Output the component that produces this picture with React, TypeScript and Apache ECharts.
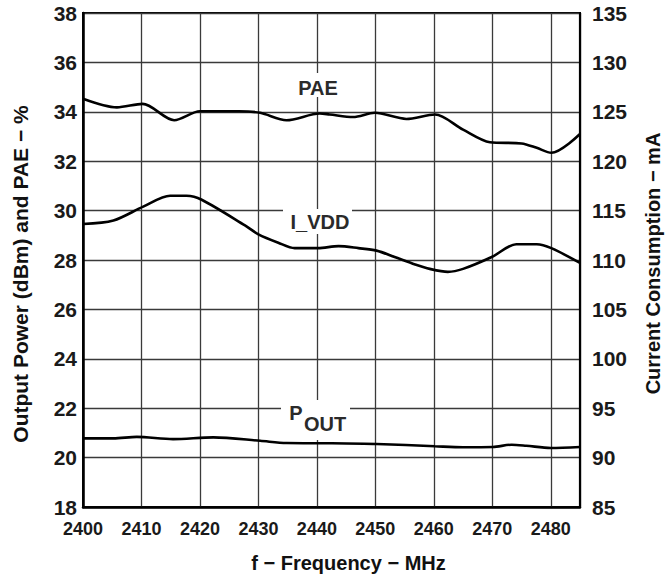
import React, { useEffect, useRef } from "react";
import * as echarts from "echarts";

// Frequency (MHz) / value pairs
const paeFreq = [2400, 2405.8, 2410.2, 2415.6, 2420, 2426.7, 2430.3, 2434.8, 2440.5, 2442.2, 2446.2, 2449.9, 2455.3, 2460.2, 2465, 2469.6, 2475, 2477.6, 2480.1, 2485];
const paeVal = [34.53, 34.18, 34.32, 33.66, 34.02, 34.02, 33.96, 33.66, 33.93, 33.89, 33.79, 33.96, 33.71, 33.89, 33.28, 32.77, 32.72, 32.54, 32.34, 33.1];

const idFreq = [2400, 2405.2, 2410.3, 2414.9, 2417.7, 2420.3, 2427.7, 2430, 2433.4, 2436.2, 2440.2, 2443.7, 2447.1, 2450.2, 2453.3, 2456.8, 2459.3, 2462.4, 2465, 2469.9, 2474.1, 2477.6, 2480.1, 2485];
const idVal = [113.65, 114.0, 115.4, 116.5, 116.5, 116.1, 113.5, 112.6, 111.75, 111.2, 111.2, 111.4, 111.2, 110.95, 110.3, 109.55, 109.1, 108.8, 109.1, 110.3, 111.6, 111.6, 111.2, 109.7];

const poutFreq = [2400, 2405.2, 2409.2, 2415.4, 2422.3, 2430.3, 2434.8, 2442.2, 2450.2, 2460.2, 2465, 2470.1, 2473.3, 2475.8, 2480, 2485];
const poutVal = [20.78, 20.78, 20.84, 20.75, 20.82, 20.68, 20.59, 20.58, 20.55, 20.46, 20.42, 20.43, 20.52, 20.48, 20.39, 20.43];

const xTicks = { min: 2400, max: 2485, interval: 10 };
const leftTicks = { min: 18, max: 38, interval: 2 };
const rightTicks = { min: 85, max: 135, interval: 5 };

const FONT = "'Liberation Sans', Arial, Helvetica, sans-serif";

const zip = (xs: number[], ys: number[]) => xs.map((x, i) => [x, ys[i]]);

export default function App() {
  const ref = useRef<HTMLDivElement>(null);
  useEffect(() => {
    if (!ref.current) return;
    const chart = echarts.init(ref.current, undefined, { renderer: "svg" });
    const gridLine = { show: true, lineStyle: { color: "#3a3a3a", width: 1.3 } };
    const lineSeries = (name: string, data: number[][], yAxisIndex: number) => ({
      type: "line",
      name,
      yAxisIndex,
      data,
      smooth: 0.3,
      showSymbol: false,
      symbol: "none",
      lineStyle: { color: "#000", width: 2.6 },
      z: 5,
    });
    const labelText = (text: string, x: number, y: number) => ({
      type: "text",
      z: 20,
      style: {
        text,
        x,
        y,
        fill: "#2a2a2a",
        font: `bold 20px ${FONT}`,
        textAlign: "center",
        textVerticalAlign: "middle",
      },
    });
    const whiteBox = (x: number, y: number, w: number, h: number) => ({
      type: "rect",
      z: 15,
      shape: { x, y, width: w, height: h },
      style: { fill: "#fff" },
    });
    chart.setOption({
      animation: false,
      backgroundColor: "#fff",
      grid: {
        left: 83,
        right: 92,
        top: 13,
        bottom: 69,
        show: true,
        borderColor: "#000",
        borderWidth: 2,
        backgroundColor: "transparent",
      },
      xAxis: {
        type: "value",
        ...xTicks,
        name: "f \u2212 Frequency \u2212 MHz",
        nameLocation: "middle",
        nameGap: 46,
        nameTextStyle: {
          fontFamily: FONT,
          fontWeight: "bold",
          fontSize: 20,
          color: "#111",
          padding: [0, 0, 0, 34],
        },
        axisLine: { show: true, lineStyle: { color: "#000", width: 2.5 } },
        axisTick: { show: false },
        splitLine: gridLine,
        axisLabel: {
          fontFamily: FONT,
          fontWeight: "bold",
          fontSize: 18,
          color: "#1a1a1a",
          margin: 13,
          showMaxLabel: false,
          formatter: (v: number) => (v % 10 === 0 ? String(v) : ""),
        },
      },
      yAxis: [
        {
          type: "value",
          ...leftTicks,
          position: "left",
          name: "Output Power (dBm) and PAE \u2212 %",
          nameLocation: "middle",
          nameGap: 52,
          nameTextStyle: {
            fontFamily: FONT,
            fontWeight: "bold",
            fontSize: 21,
            color: "#111",
            padding: [0, 28, 0, 0],
          },
          axisLine: { show: true, lineStyle: { color: "#000", width: 2.5 } },
          axisTick: { show: false },
          splitLine: gridLine,
          axisLabel: { fontFamily: FONT, fontWeight: "bold", fontSize: 21, color: "#1a1a1a", margin: 6 },
        },
        {
          type: "value",
          ...rightTicks,
          position: "right",
          name: "Current Consumption \u2212 mA",
          nameLocation: "middle",
          nameGap: 63,
          nameRotate: 90,
          nameTextStyle: {
            fontFamily: FONT,
            fontWeight: "bold",
            fontSize: 20,
            color: "#111",
            padding: [0, 7, 0, 0],
          },
          axisLine: { show: true, lineStyle: { color: "#000", width: 2.2 } },
          axisTick: { show: false },
          splitLine: { show: false },
          axisLabel: { fontFamily: FONT, fontWeight: "bold", fontSize: 21, color: "#1a1a1a", margin: 12 },
        },
      ],
      series: [
        lineSeries("PAE", zip(paeFreq, paeVal), 0),
        lineSeries("I_VDD", zip(idFreq, idVal), 1),
        lineSeries("POUT", zip(poutFreq, poutVal), 0),
      ],
      graphic: [
        whiteBox(292, 73, 54, 24),
        labelText("PAE", 318, 88),
        whiteBox(283, 209, 69, 25),
        labelText("I_VDD", 320, 222),
        whiteBox(281, 400, 69, 40),
        labelText("P", 296, 413),
        labelText("OUT", 325, 424),
      ],
    });
    return () => chart.dispose();
  }, []);
  return (
    <div
      ref={ref}
      style={{ position: "fixed", left: 0, top: 0, width: 672, height: 578, background: "#fff" }}
    />
  );
}
